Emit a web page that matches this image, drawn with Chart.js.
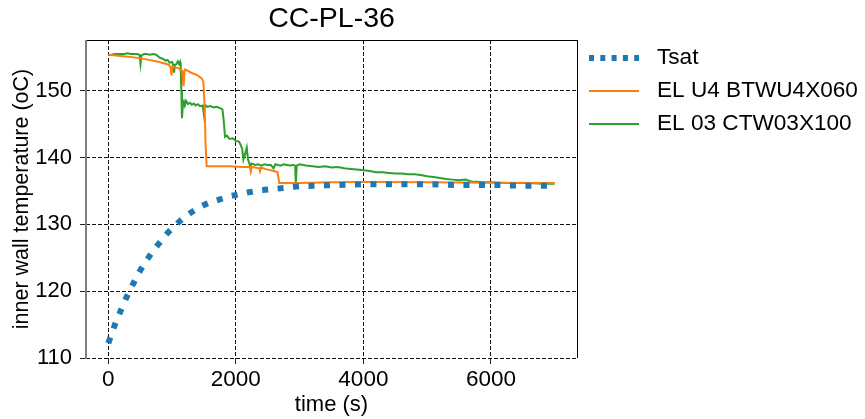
<!DOCTYPE html>
<html>
<head>
<meta charset="utf-8">
<title>CC-PL-36</title>
<script src="https://cdn.jsdelivr.net/npm/chart.js@4.4.1/dist/chart.umd.min.js"></script>
<style>
  body { margin: 0; background: #fff; }
  #wrap { width: 865px; height: 419px; }
</style>
</head>
<body>
<div id="wrap"><canvas id="grafico" width="865" height="419"></canvas></div>
<script>
// datos
const tsatTiempo = [0, 100, 200, 300, 400, 500, 600, 700, 800, 900, 1000, 1100, 1200, 1300, 1400, 1500, 1600, 1700, 1800, 1900, 2000, 2200, 2400, 2600, 2800, 3000, 3300, 3600, 4000, 4500, 5000, 5500, 6000, 6500, 7000];
const tsatTemp = [112.2, 114.9, 117.2, 119.4, 121.3, 123.1, 124.6, 126.0, 127.2, 128.4, 129.4, 130.3, 131.1, 131.8, 132.4, 132.9, 133.3, 133.6, 133.9, 134.2, 134.4, 134.8, 135.1, 135.3, 135.5, 135.7, 135.8, 135.9, 136.0, 136.0, 136.0, 135.9, 135.9, 135.8, 135.8];

const u4Tiempo = [0, 200, 400, 600, 800, 950, 980, 990, 1005, 1100, 1160, 1170, 1180, 1195, 1205, 1300, 1400, 1460, 1490, 1510, 1525, 1542, 1700, 1900, 2100, 2220, 2235, 2250, 2370, 2380, 2395, 2500, 2600, 2655, 2680, 3000, 3500, 4000, 5000, 6000, 7000];
const u4Temp = [155.4, 155.2, 155.0, 154.7, 154.3, 153.9, 153.4, 152.3, 153.6, 153.4, 153.0, 151.5, 150.7, 152.9, 153.2, 152.7, 152.3, 151.9, 151.4, 148.0, 142.0, 138.7, 138.7, 138.7, 138.6, 138.6, 137.9, 138.6, 138.4, 138.0, 138.5, 138.2, 138.0, 137.8, 136.2, 136.2, 136.3, 136.35, 136.3, 136.25, 136.2];

const c03Tiempo = [0, 50, 100, 150, 200, 250, 300, 350, 400, 450, 490, 505, 520, 560, 600, 650, 700, 750, 800, 850, 900, 930, 960, 1000, 1020, 1030, 1045, 1070, 1090, 1110, 1125, 1135, 1145, 1155, 1170, 1185, 1200, 1220, 1250, 1280, 1310, 1340, 1370, 1400, 1440, 1480, 1500, 1515, 1550, 1600, 1650, 1700, 1750, 1790, 1810, 1830, 1860, 1900, 1950, 2000, 2050, 2080, 2100, 2118, 2140, 2171, 2190, 2210, 2223, 2250, 2300, 2350, 2400, 2450, 2500, 2550, 2590, 2620, 2700, 2750, 2800, 2850, 2900, 2930, 2940, 2955, 3000, 3100, 3200, 3300, 3400, 3500, 3600, 3700, 3800, 3900, 4000, 4100, 4200, 4300, 4400, 4500, 4600, 4700, 4800, 4900, 5000, 5100, 5200, 5300, 5400, 5500, 5600, 5700, 5800, 5900, 6000, 6200, 6400, 6600, 6800, 7000];
const c03Temp = [155.3, 155.4, 155.5, 155.5, 155.5, 155.5, 155.6, 155.5, 155.5, 155.5, 155.4, 154.0, 155.3, 155.5, 155.5, 155.4, 155.5, 155.4, 155.0, 154.8, 154.5, 154.6, 154.2, 154.3, 153.8, 152.7, 153.9, 154.0, 154.4, 154.0, 154.3, 153.6, 150.0, 145.9, 148.0, 148.4, 147.8, 148.5, 148.0, 148.2, 147.9, 148.1, 147.8, 148.0, 147.7, 147.8, 146.4, 147.9, 147.6, 147.7, 147.5, 147.6, 147.4, 147.2, 145.5, 143.1, 143.3, 142.8, 142.9, 142.5, 142.4, 141.8, 141.3, 139.7, 140.4, 141.5, 139.7, 139.2, 138.7, 139.1, 138.9, 139.0, 138.8, 139.0, 138.9, 138.9, 138.4, 139.0, 138.8, 139.0, 138.9, 138.8, 138.9, 138.8, 136.2, 138.8, 139.0, 138.8, 138.7, 138.6, 138.7, 138.5, 138.6, 138.4, 138.3, 138.2, 138.1, 138.0, 137.8, 137.8, 137.7, 137.6, 137.6, 137.5, 137.5, 137.4, 137.2, 137.1, 136.95, 136.8, 136.7, 136.6, 136.7, 136.4, 136.4, 136.3, 136.3, 136.2, 136.2, 136.2, 136.1, 136.1];

const ticksX = [0, 2000, 4000, 6000];
const ticksY = [110, 120, 130, 140, 150];

function puntos(tiempos, temps) {
  return tiempos.map((t, i) => ({ x: t, y: temps[i] }));
}

Chart.defaults.font.family = "'Liberation Sans', Arial, sans-serif";
Chart.defaults.color = "#000";

// marco de ejes y leyenda a la derecha
const marcoYLeyenda = {
  id: "marcoYLeyenda",
  afterDraw(chart) {
    const { ctx, chartArea: a } = chart;
    ctx.save();
    ctx.setLineDash([]);
    ctx.lineWidth = 1;
    ctx.strokeStyle = "#000";
    ctx.beginPath();
    ctx.moveTo(a.left, a.top + 0.5);
    ctx.lineTo(a.right + 1, a.top + 0.5);
    ctx.moveTo(a.right + 0.5, a.top);
    ctx.lineTo(a.right + 0.5, a.bottom);
    ctx.stroke();
    ctx.lineWidth = 2;
    ctx.strokeStyle = "#7f7f7f";
    ctx.beginPath();
    ctx.moveTo(a.left, a.top);
    ctx.lineTo(a.left, a.bottom + 1);
    ctx.stroke();

    ctx.font = "22.6px 'Liberation Sans', Arial, sans-serif";
    ctx.textBaseline = "middle";
    ctx.fillStyle = "#000";
    chart.data.datasets.forEach((ds, i) => {
      const y = 58 + i * 33;
      ctx.lineWidth = ds.legendWidth || ds.borderWidth;
      ctx.strokeStyle = ds.borderColor;
      ctx.setLineDash(ds.legendDash || []);
      ctx.beginPath();
      ctx.moveTo(589, y);
      ctx.lineTo(639, y);
      ctx.stroke();
      ctx.fillText(ds.label, 657, y);
    });
    ctx.restore();
  },
};

new Chart(document.getElementById("grafico"), {
  type: "line",
  data: {
    datasets: [
      {
        label: "Tsat",
        data: puntos(tsatTiempo, tsatTemp),
        borderColor: "#1f77b4",
        borderWidth: 6,
        borderDash: [6, 9.5],
        legendDash: [5, 6.3],
        cubicInterpolationMode: "monotone",
        pointRadius: 0,
      },
      {
        label: "EL U4 BTWU4X060",
        data: puntos(u4Tiempo, u4Temp),
        borderColor: "#ff7f0e",
        borderWidth: 2,
        pointRadius: 0,
      },
      {
        label: "EL 03 CTW03X100",
        data: puntos(c03Tiempo, c03Temp),
        borderColor: "#2ca02c",
        borderWidth: 2,
        pointRadius: 0,
      },
    ],
  },
  options: {
    responsive: false,
    animation: false,
    devicePixelRatio: 1,
    layout: { padding: { left: 0, top: 0, right: 288, bottom: 0 } },
    plugins: {
      legend: { display: false },
      tooltip: { enabled: false },
      title: {
        display: true,
        fullSize: false,
        text: "CC-PL-36",
        font: { size: 28.5, weight: "normal" },
        color: "#000",
        padding: { top: 2, bottom: 3.8 },
      },
    },
    scales: {
      x: {
        type: "linear",
        min: -350,
        max: 7350,
        afterBuildTicks: (s) => { s.ticks = ticksX.map((v) => ({ value: v })); },
        afterFit: (s) => { s.height = 61; },
        ticks: { font: { size: 22.5 }, padding: 2, maxRotation: 0, callback: (v) => String(v) },
        grid: { color: "#111", lineWidth: 1, tickLength: 6, tickColor: "#222", tickBorderDash: [] },
        border: { display: false, dash: [4, 2] },
        title: { display: true, text: "time (s)", font: { size: 22 }, padding: { top: 0, bottom: 1 } },
      },
      y: {
        min: 110,
        max: 157.6,
        afterBuildTicks: (s) => { s.ticks = ticksY.map((v) => ({ value: v })); },
        afterFit: (s) => { s.width = 86; },
        ticks: { font: { size: 22 }, padding: 8 },
        grid: { color: "#111", lineWidth: 1, tickLength: 6, tickColor: "#222", tickBorderDash: [] },
        border: { display: false, dash: [4, 2] },
        title: { display: true, text: "inner wall temperature (oC)", font: { size: 21.5 }, padding: { top: 9, bottom: 0 } },
      },
    },
  },
  plugins: [marcoYLeyenda],
});
</script>
</body>
</html>
